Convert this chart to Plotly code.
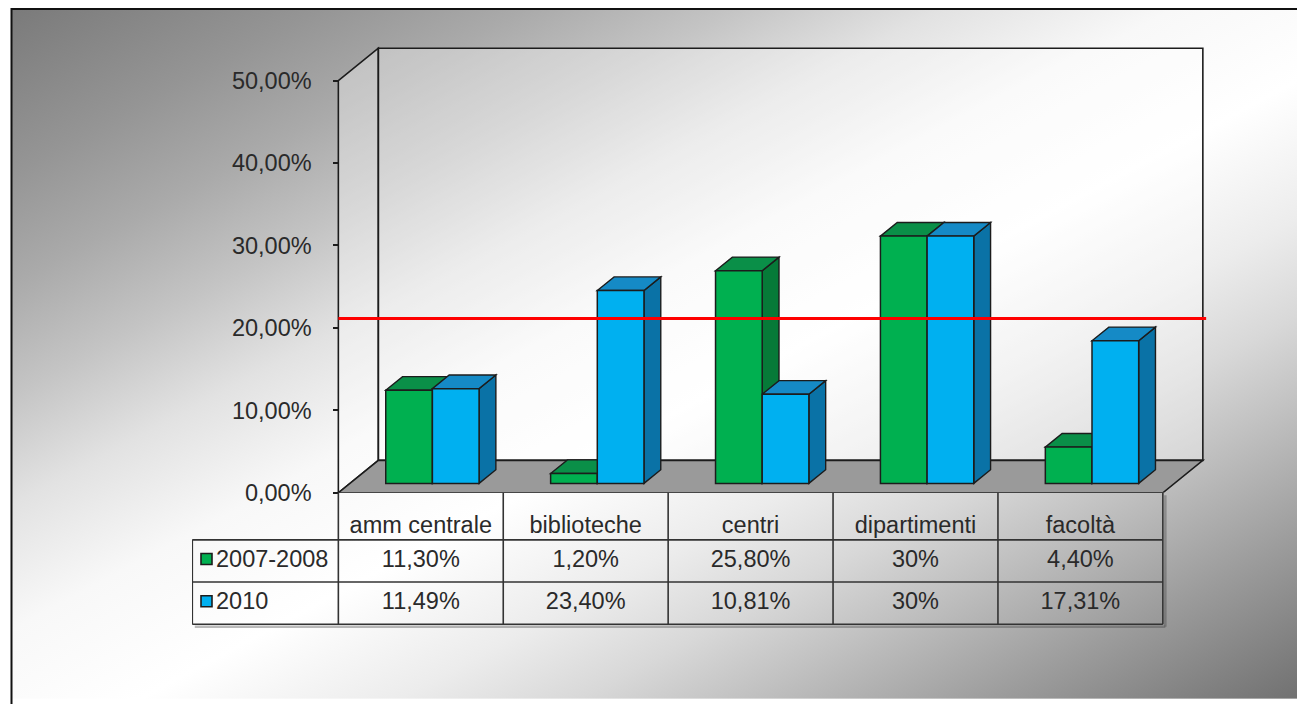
import base64
import plotly.graph_objects as go

# ---------------- data ----------------
categories = ["amm centrale", "biblioteche", "centri", "dipartimenti", "facoltà"]
series_names = ["2007-2008", "2010"]
values_2007_2008 = [11.30, 1.20, 25.80, 30.0, 4.40]
values_2010 = [11.49, 23.40, 10.81, 30.0, 17.31]
y_tick_values = [0, 10, 20, 30, 40, 50]
y_tick_labels = ["0,00%", "10,00%", "20,00%", "30,00%", "40,00%", "50,00%"]
threshold = 20

# ---------------- style / layout constants ----------------
OFF = 8                          # page body margin
W, H = 1305 - 2 * OFF, 712 - 2 * OFF  # figure size (fits the window)
FONT = "Liberation Sans, Arial, sans-serif"
FS = 23.5
TXT = "#2a2a2a"
EDGE = "#1c1c1c"
GREEN = ["#00b050", "#0a8f48", "#067a38"]   # front, top, side
BLUE = ["#00b0f0", "#158ac6", "#0a72a6"]
FLOOR = "#9a9a9a"

PX_PER_CAT = 164.9
CAT0_PX = 420.8
PX_PER_PCT = 8.4
FLOOR_PX = 502
WALL_DX, WALL_DY = 40 / PX_PER_CAT, 33 / PX_PER_PCT
BAR_PLANE = 0.29
BAR_DEPTH = 0.42
BAR_W = 0.283
WALL_TOP = 50

pdx, pdy = BAR_PLANE * WALL_DX, BAR_PLANE * WALL_DY
bdx, bdy = BAR_DEPTH * WALL_DX, BAR_DEPTH * WALL_DY


def px2paper_x(px):
    return (px - OFF) / W


def px2paper_y(py):
    return 1 - (py - OFF) / H


def xu(px):
    return (px - CAT0_PX) / PX_PER_CAT


def fmt(v):
    if float(v).is_integer():
        return f"{int(v)}%"
    return f"{v:.2f}".replace(".", ",") + "%"


idx = list(range(len(categories)))
X_DOM = [px2paper_x(192), px2paper_x(1216)]
X_RANGE = [xu(192), xu(1216)]
TOP_PX = 45
TABLE_BOTTOM_PX = 640

# ---------------- background gradient (svg data uri) ----------------
stops = [(0, "#7a7a7a"), (0.12, "#959595"), (0.2, "#aaaaaa"), (0.28, "#c4c4c4"),
         (0.36, "#e2e2e2"), (0.45, "#f8f8f8"), (0.55, "#ffffff"), (0.65, "#ececec"),
         (0.72, "#d8d8d8"), (0.78, "#c2c2c2"), (0.88, "#9c9c9c"), (1, "#707070")]
stop_xml = "".join(f'<stop offset="{o}" stop-color="{c}"/>' for o, c in stops)
svg = ('<svg xmlns="http://www.w3.org/2000/svg" width="1294" height="704" viewBox="0 0 100 100" '
       'preserveAspectRatio="none"><defs><linearGradient id="g" x1="0" y1="0" x2="1" y2="1">'
       + stop_xml + '</linearGradient></defs><rect x="0" y="0" width="100" height="100" fill="url(#g)"/></svg>')
bg_src = "data:image/svg+xml;base64," + base64.b64encode(svg.encode()).decode()

fig = go.Figure()

# ---------------- bars (front faces) ----------------
series = [(values_2007_2008, GREEN, pdx - BAR_W), (values_2010, BLUE, pdx)]
for (vals, cols, off), name in zip(series, series_names):
    fig.add_trace(go.Bar(
        x=idx, y=vals, base=pdy, offset=off, width=BAR_W, name=name,
        marker=dict(color=cols[0], line=dict(color=EDGE, width=1.5)),
        hoverinfo="skip"))

shapes = []
# walls and floor
x_front_l, x_front_r = -0.5, len(categories) - 0.5
shapes.append(dict(type="path", xref="x", yref="y", layer="below",
                   path=f"M{x_front_l},0 L{x_front_l},{WALL_TOP} L{x_front_l+WALL_DX},{WALL_TOP+WALL_DY} "
                        f"L{x_front_l+WALL_DX},{WALL_DY} Z",
                   fillcolor="rgba(255,255,255,0.35)", line=dict(color=EDGE, width=1.6)))
shapes.append(dict(type="rect", xref="x", yref="y", layer="below",
                   x0=x_front_l + WALL_DX, x1=x_front_r + WALL_DX, y0=WALL_DY, y1=WALL_TOP + WALL_DY,
                   fillcolor="rgba(255,255,255,0.35)", line=dict(color=EDGE, width=1.6)))
shapes.append(dict(type="path", xref="x", yref="y", layer="below",
                   path=f"M{x_front_l},0 L{x_front_l+WALL_DX},{WALL_DY} L{x_front_r+WALL_DX},{WALL_DY} "
                        f"L{x_front_r},0 Z",
                   fillcolor=FLOOR, line=dict(color=EDGE, width=1.6)))

# bar top & side faces
for vals, cols, off in series:
    for i, v in zip(idx, vals):
        x0 = i + off
        x1 = x0 + BAR_W
        b = pdy
        h = pdy + v
        shapes.append(dict(type="path", xref="x", yref="y", layer="below",
                           path=f"M{x1},{b} L{x1+bdx},{b+bdy} L{x1+bdx},{h+bdy} L{x1},{h} Z",
                           fillcolor=cols[2], line=dict(color=EDGE, width=1.4)))
        shapes.append(dict(type="path", xref="x", yref="y", layer="below",
                           path=f"M{x0},{h} L{x0+bdx},{h+bdy} L{x1+bdx},{h+bdy} L{x1},{h} Z",
                           fillcolor=cols[1], line=dict(color=EDGE, width=1.4)))

# threshold line (in bar plane)
shapes.append(dict(type="line", xref="x", yref="y", layer="above",
                   x0=x_front_l, x1=x_front_r + WALL_DX + 0.02,
                   y0=threshold + pdy, y1=threshold + pdy,
                   line=dict(color="#ff0000", width=3)))

# ---------------- data table ----------------
row_lines = [0, 48, 91, 134]
x_left = xu(192.3)
sh_dx = 2.5 / PX_PER_CAT
# soft shadow right / bottom of the table
shapes.append(dict(type="line", xref="x", yref="y2", x0=x_front_r + sh_dx, x1=x_front_r + sh_dx,
                   y0=2.5, y1=row_lines[-1] + 2.5, line=dict(color="rgba(60,60,60,0.35)", width=2.5)))
shapes.append(dict(type="line", xref="x", yref="y2", x0=x_left + sh_dx, x1=x_front_r + sh_dx,
                   y0=row_lines[-1] + 2.5, y1=row_lines[-1] + 2.5,
                   line=dict(color="rgba(60,60,60,0.35)", width=2.5)))
for k in range(len(categories) + 1):
    xx = -0.5 + k
    shapes.append(dict(type="line", xref="x", yref="y2", x0=xx, x1=xx, y0=0, y1=row_lines[-1],
                       line=dict(color="#333333", width=1.6)))
for r in row_lines[1:]:
    shapes.append(dict(type="line", xref="x", yref="y2", x0=x_left, x1=x_front_r, y0=r, y1=r,
                       line=dict(color="#333333", width=1.6)))
shapes.append(dict(type="line", xref="x", yref="y2", x0=x_left, x1=x_left,
                   y0=row_lines[1], y1=row_lines[-1], line=dict(color="#333333", width=1.6)))

# outer frame
shapes.append(dict(type="rect", xref="paper", yref="paper",
                   x0=px2paper_x(11.5), x1=1.05, y0=-0.05, y1=px2paper_y(9),
                   line=dict(color="#111111", width=2), fillcolor="rgba(0,0,0,0)", layer="above"))

row_centers = [35, 69.5, 112.5]
fig.add_trace(go.Scatter(x=idx, y=[row_centers[0]] * len(idx), yaxis="y2", mode="text",
                         text=categories, textposition="middle center", cliponaxis=False,
                         textfont=dict(family=FONT, size=FS, color=TXT), hoverinfo="skip"))
for vals, rc in zip([values_2007_2008, values_2010], row_centers[1:]):
    fig.add_trace(go.Scatter(x=idx, y=[rc] * len(idx), yaxis="y2", mode="text",
                             text=[fmt(v) for v in vals], textposition="middle center", cliponaxis=False,
                             textfont=dict(family=FONT, size=FS, color=TXT), hoverinfo="skip"))
# legend keys inside the table
fig.add_trace(go.Scatter(x=[xu(206.5)] * 2, y=[67.5, 110.5], yaxis="y2", mode="markers",
                         marker=dict(symbol="square", size=11, color=[GREEN[0], BLUE[0]],
                                     line=dict(color=EDGE, width=1.6)),
                         cliponaxis=False, hoverinfo="skip"))
fig.add_trace(go.Scatter(x=[xu(216)] * 2, y=row_centers[1:], yaxis="y2", mode="text",
                         text=series_names, textposition="middle right", cliponaxis=False,
                         textfont=dict(family=FONT, size=FS, color=TXT), hoverinfo="skip"))

fig.update_layout(
    width=W, height=H, margin=dict(l=0, r=0, t=0, b=0),
    paper_bgcolor="white", plot_bgcolor="rgba(0,0,0,0)",
    showlegend=False, barmode="overlay", hovermode=False,
    font=dict(family=FONT, color=TXT),
    xaxis=dict(domain=X_DOM, range=X_RANGE, visible=False, fixedrange=True),
    yaxis=dict(domain=[px2paper_y(FLOOR_PX), px2paper_y(TOP_PX)],
               range=[0, (FLOOR_PX - TOP_PX) / PX_PER_PCT],
               anchor="free", position=px2paper_x(338.3),
               tickvals=y_tick_values, ticktext=y_tick_labels,
               ticks="outside", ticklen=5, tickwidth=1.5, tickcolor=EDGE,
               ticklabelstandoff=17,
               tickfont=dict(family=FONT, size=FS, color=TXT),
               showgrid=False, zeroline=False, showline=False, fixedrange=True),
    yaxis2=dict(domain=[px2paper_y(TABLE_BOTTOM_PX), px2paper_y(FLOOR_PX)],
                range=[TABLE_BOTTOM_PX - FLOOR_PX, 0], anchor="x", visible=False, fixedrange=True),
    shapes=shapes,
    images=[dict(source=bg_src, xref="paper", yref="paper", x=px2paper_x(11), y=px2paper_y(8),
                 sizex=(1305 - 11) / W, sizey=(712 - 8) / H, xanchor="left", yanchor="top",
                 sizing="stretch", layer="below")],
)

fig.write_html("out.html")
